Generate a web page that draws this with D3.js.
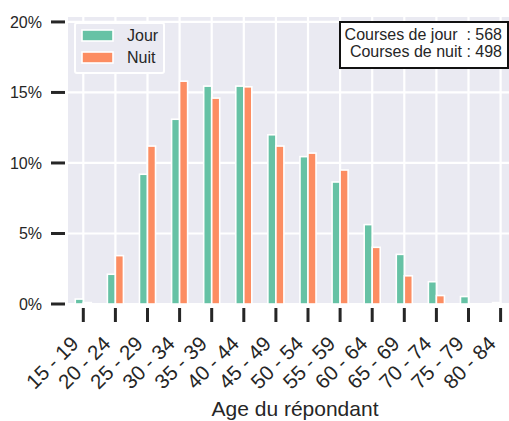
<!DOCTYPE html>
<html>
<head>
<meta charset="utf-8">
<script src="https://cdn.jsdelivr.net/npm/d3@7"></script>
<style>
  html, body { margin: 0; padding: 0; background: #ffffff; }
  svg { display: block; }
  text { font-family: "Liberation Sans", Arial, Helvetica, sans-serif; fill: #262626; }
</style>
</head>
<body>
<svg id="chart" width="509" height="421"></svg>
<script>
// Age groups of respondents
const categories = ["15 - 19", "20 - 24", "25 - 29", "30 - 34", "35 - 39", "40 - 44", "45 - 49",
                    "50 - 54", "55 - 59", "60 - 64", "65 - 69", "70 - 74", "75 - 79", "80 - 84"];
// Share of respondents (%) per age group
const jourValues = [0.35, 2.11, 9.2, 13.1, 15.45, 15.45, 12.0, 10.45, 8.65, 5.63, 3.52, 1.58, 0.53, 0.1];
const nuitValues = [0.1, 3.43, 11.2, 15.8, 14.6, 15.4, 11.2, 10.7, 9.5, 4.02, 2.0, 0.6, 0, 0];
const seriesNames = ["Jour", "Nuit"];
const seriesColors = ["#66c2a5", "#fc8d62"];
const yTicks = [0, 5, 10, 15, 20];
const summaryLines = ["Courses de jour  : 568", "Courses de nuit : 498"];
const xTitle = "Age du répondant";

const svg = d3.select("#chart");
const plot = { left: 68, right: 516, top: 17, bottom: 304 };

const x = d3.scaleBand().domain(categories).range([67.25, 516.65]).paddingInner(0).paddingOuter(0);
const y = d3.scaleLinear().domain([0, 20.35]).range([plot.bottom, plot.top]);
const barW = x.bandwidth() * 0.25;
const cx = d => x(d) + x.bandwidth() / 2;

// background
svg.append("rect")
  .attr("x", plot.left).attr("y", plot.top)
  .attr("width", plot.right - plot.left).attr("height", plot.bottom - plot.top)
  .attr("fill", "#eaeaf2");

// grid
const grid = svg.append("g").attr("stroke", "#ffffff").attr("stroke-width", 2.2);
grid.selectAll("line.h").data(yTicks).join("line")
  .attr("x1", plot.left).attr("x2", plot.right)
  .attr("y1", d => y(d)).attr("y2", d => y(d));
grid.selectAll("line.v").data(categories).join("line")
  .attr("x1", cx).attr("x2", cx)
  .attr("y1", plot.top).attr("y2", plot.bottom);

// bars: day to the left of each centre line, night to the right
const series = [jourValues, nuitValues];
series.forEach((vals, si) => {
  svg.append("g").selectAll("rect").data(categories).join("rect")
    .attr("x", d => cx(d) + (si === 0 ? -barW : 0))
    .attr("y", (d, i) => y(vals[i]))
    .attr("width", barW)
    .attr("height", (d, i) => y(0) - y(vals[i]))
    .attr("fill", seriesColors[si])
    .attr("stroke", "#ffffff")
    .attr("stroke-width", 1.6);
});

// y axis ticks and labels
const yAxis = svg.append("g");
yAxis.selectAll("line").data(yTicks).join("line")
  .attr("x1", 51).attr("x2", 65)
  .attr("y1", d => y(d)).attr("y2", d => y(d))
  .attr("stroke", "#262626").attr("stroke-width", 3);
yAxis.selectAll("text").data(yTicks).join("text")
  .attr("x", 42).attr("y", d => y(d))
  .attr("dy", "0.35em")
  .attr("text-anchor", "end")
  .attr("font-size", 16)
  .text(d => d + "%");

// x axis ticks and rotated labels
const xAxis = svg.append("g");
xAxis.selectAll("line").data(categories).join("line")
  .attr("x1", cx).attr("x2", cx)
  .attr("y1", 308).attr("y2", 322)
  .attr("stroke", "#262626").attr("stroke-width", 3);
xAxis.selectAll("text").data(categories).join("text")
  .attr("transform", d => `translate(${cx(d) - 3.5},345) rotate(-45)`)
  .attr("text-anchor", "end")
  .attr("font-size", 20.5)
  .text(d => d);

// axis title
svg.append("text")
  .attr("x", 295).attr("y", 416)
  .attr("text-anchor", "middle")
  .attr("font-size", 21)
  .text(xTitle);

// legend
const legend = svg.append("g");
legend.append("rect")
  .attr("x", 75).attr("y", 23).attr("width", 89).attr("height", 50)
  .attr("rx", 2)
  .attr("fill", "#eaeaf2").attr("stroke", "#ffffff").attr("stroke-width", 2);
seriesNames.forEach((name, i) => {
  const yy = 30 + i * 22;
  legend.append("rect")
    .attr("x", 82).attr("y", yy).attr("width", 31).attr("height", 11)
    .attr("fill", seriesColors[i]).attr("stroke", "#ffffff").attr("stroke-width", 1.6);
  legend.append("text")
    .attr("x", 127).attr("y", yy + 5.5).attr("dy", "0.35em")
    .attr("font-size", 16)
    .text(name);
});

// summary box
const box = svg.append("g");
box.append("rect")
  .attr("x", 340).attr("y", 22).attr("width", 168).attr("height", 46)
  .attr("fill", "#ffffff").attr("stroke", "#111111").attr("stroke-width", 2);
summaryLines.forEach((line, i) => {
  box.append("text")
    .attr("x", 502).attr("y", 40 + i * 17)
    .attr("text-anchor", "end")
    .attr("font-size", 16)
    .style("white-space", "pre")
    .text(line);
});
</script>
</body>
</html>
